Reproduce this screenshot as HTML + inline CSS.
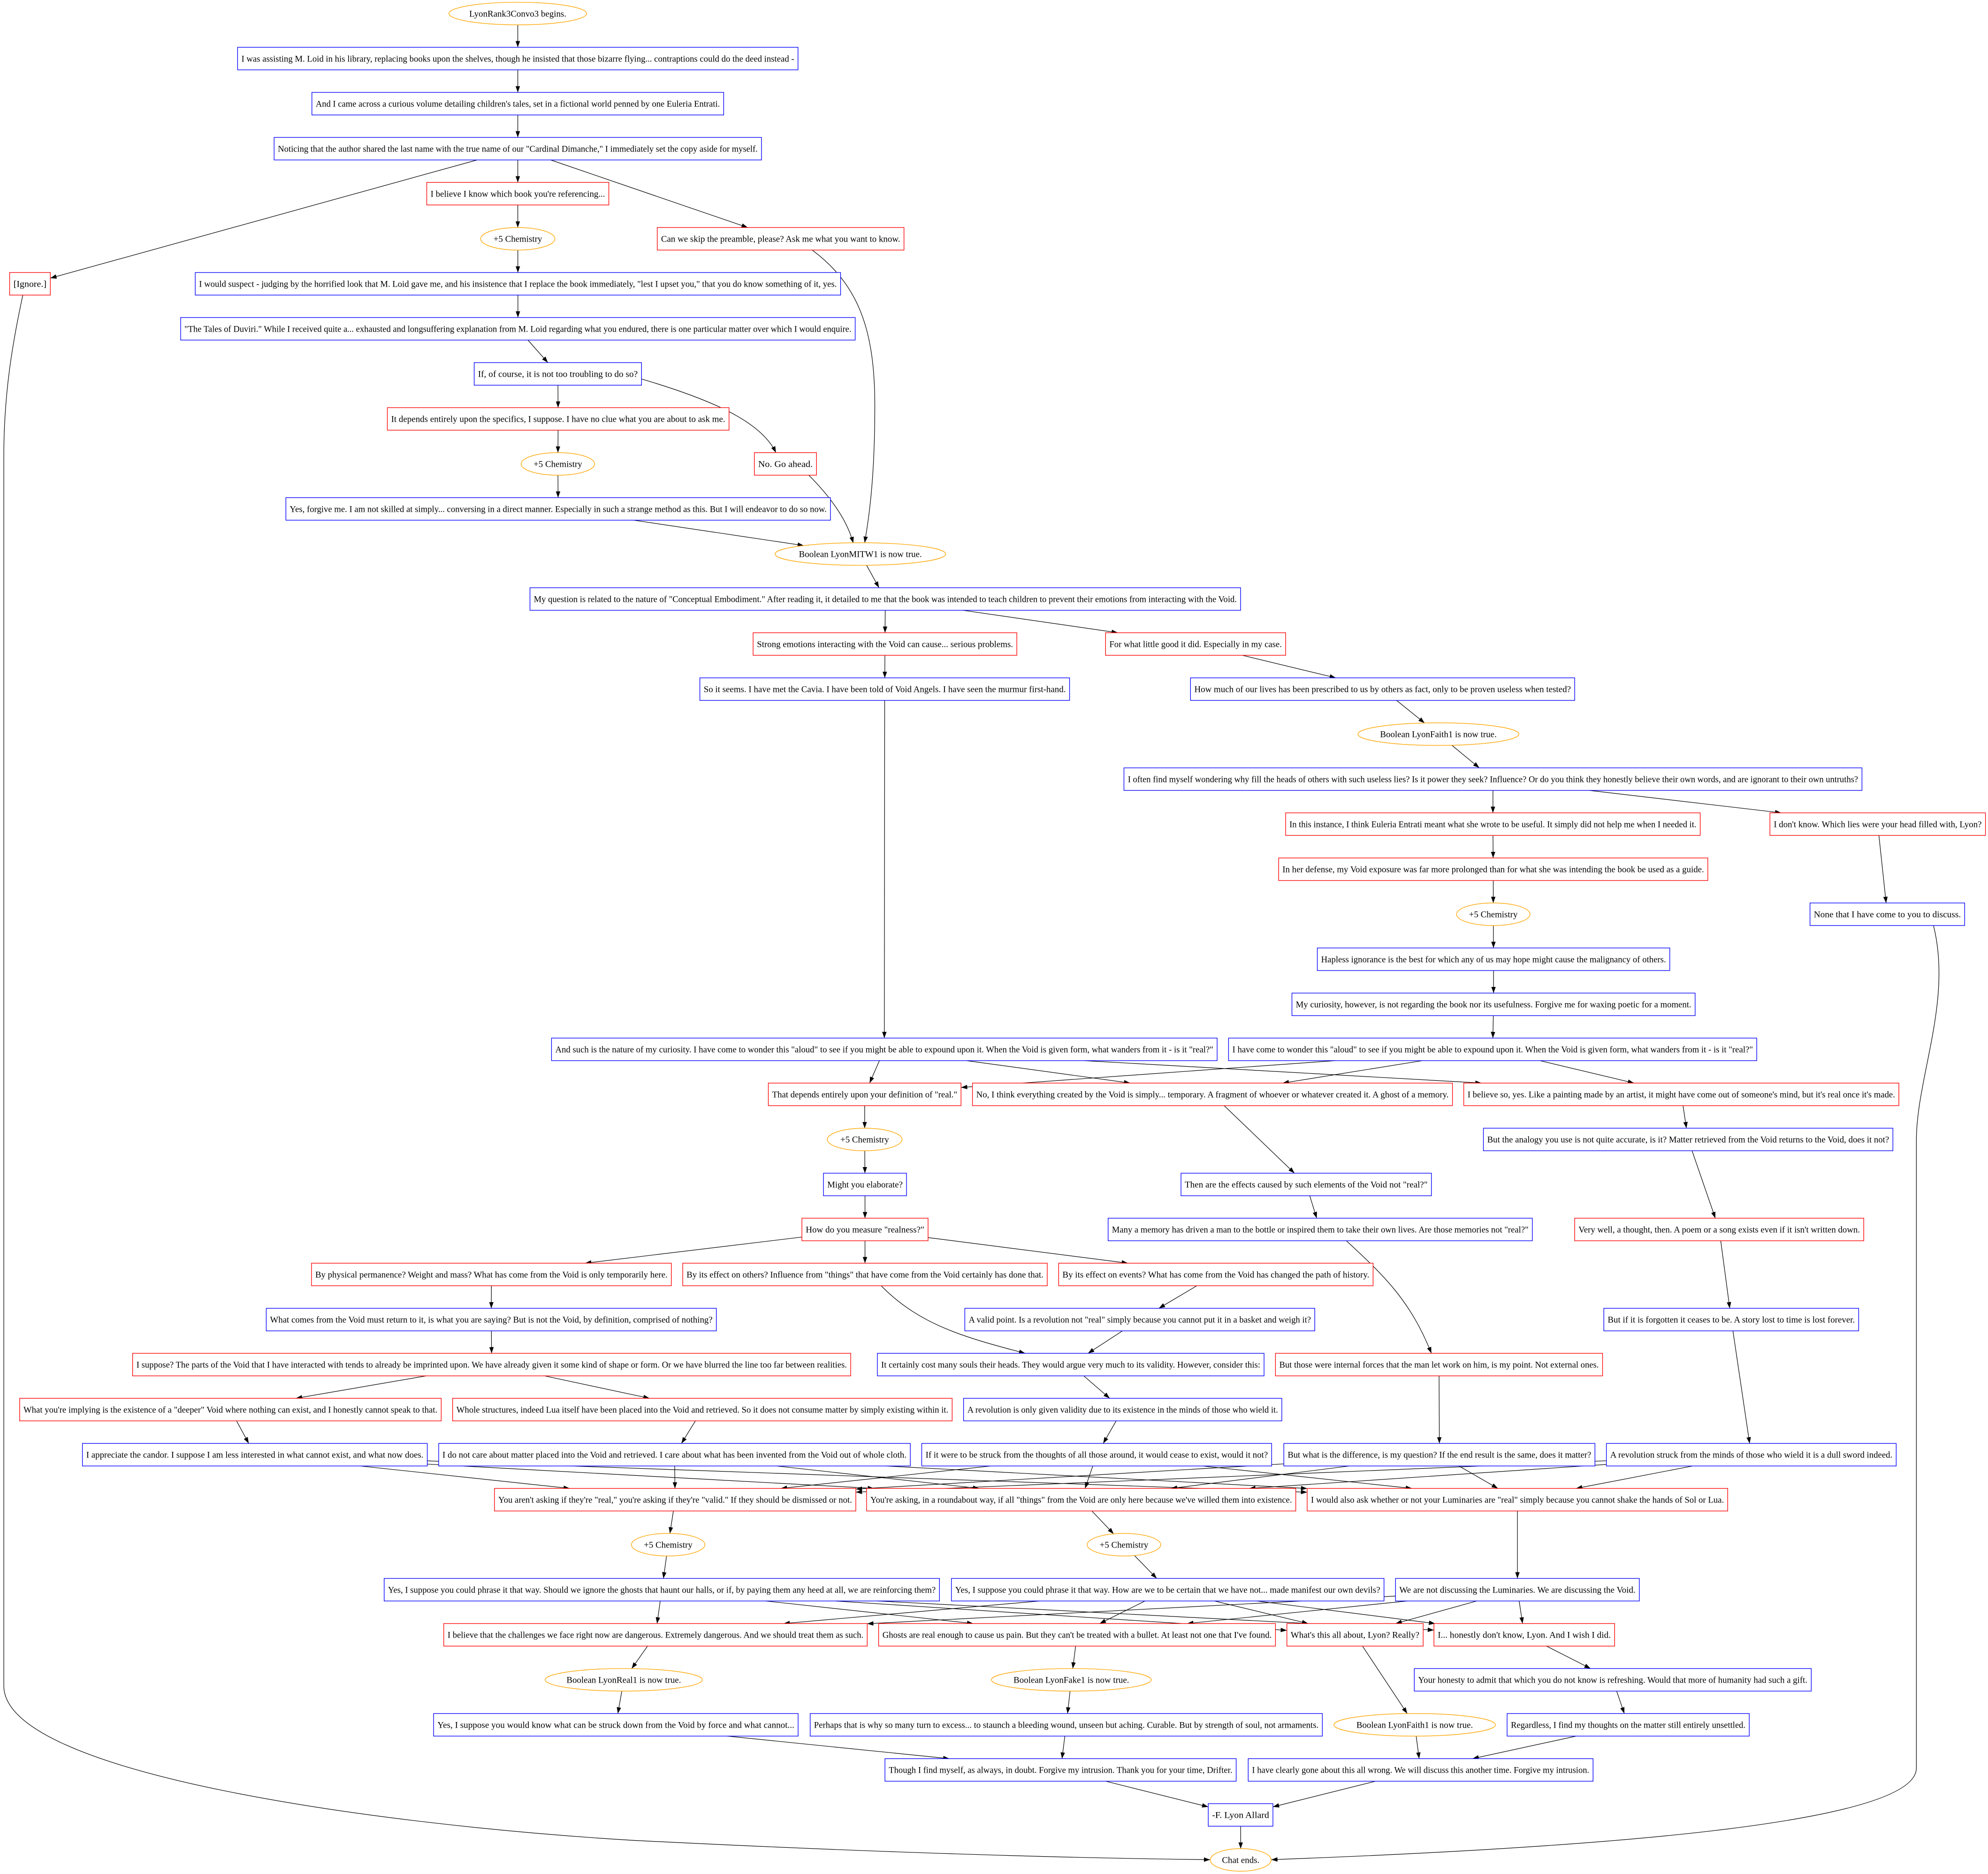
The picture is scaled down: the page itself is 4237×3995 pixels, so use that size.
<!DOCTYPE html>
<html><head><meta charset="utf-8"><style>
html,body{margin:0;padding:0;background:#fff;}
svg{display:block;}
.b{fill:#fff;stroke:#0000ff;stroke-width:0.5;}
.r{fill:#fff;stroke:#ff0000;stroke-width:0.5;}
.o{fill:#fff;stroke:#ffa500;stroke-width:0.5;}
text{font-family:"Liberation Serif","Times New Roman",serif;font-size:7px;text-anchor:middle;fill:#000;}
.ed{fill:none;stroke:#000;stroke-width:0.45;}
</style></head><body>
<svg id="s" width="4237" height="3995" viewBox="0 0 1568 1478.5" preserveAspectRatio="none" xmlns="http://www.w3.org/2000/svg">
<defs><marker id="ar" markerUnits="userSpaceOnUse" markerWidth="6" markerHeight="4" refX="4.9" refY="1.75" orient="auto"><path d="M0,0 L4.9,1.75 L0,3.5 z" fill="#000"/></marker></defs>
<rect x="0" y="0" width="1568" height="1478.5" fill="#fff"/>
<g id="edges"></g>
<path class="ed" marker-end="url(#ar)" d="M640.6,197.3 C678,225 690,262 690,320 C690,380 685,410 682,428.2"/>
<path class="ed" marker-end="url(#ar)" d="M18,232.8 C10,270 3,310 3,360 L3,1330 C3,1400 300,1440 500,1452 C700,1462 850,1466 954.5,1467.2"/>
<path class="ed" marker-end="url(#ar)" d="M1525,730.2 C1540,790 1511.5,850 1511.5,900 L1511.5,1395 C1511.5,1440 1250,1458 1002.7,1467.2"/>
<path class="ed" marker-end="url(#ar)" d="M506,299 C560,315 600,332 612,357.1"/>
<path class="ed" marker-end="url(#ar)" d="M638,375 C655,392 668,410 673,428.5"/>
<path class="ed" marker-end="url(#ar)" d="M695,1014.4 C725,1045 760,1055 808.6,1067.7"/>
<path class="ed" marker-end="url(#ar)" d="M1062,979 C1090,1005 1112,1025 1129,1067.7"/>
<g id="nodes">
<ellipse id="n0" class="o" cx="408.4" cy="10.7" rx="54.3" ry="8.9"/><text x="408.4" y="13.1">LyonRank3Convo3 begins.</text>
<rect id="n1" class="b" x="187.4" y="37.3" width="442" height="17.8"/><text x="408.4" y="48.6" textLength="436" lengthAdjust="spacingAndGlyphs">I was assisting M. Loid in his library, replacing books upon the shelves, though he insisted that those bizarre flying... contraptions could do the deed instead -</text>
<rect id="n2" class="b" x="246" y="72.9" width="324.8" height="17.8"/><text x="408.4" y="84.2" textLength="318.8" lengthAdjust="spacingAndGlyphs">And I came across a curious volume detailing children's tales, set in a fictional world penned by one Euleria Entrati.</text>
<rect id="n3" class="b" x="216.2" y="108.4" width="384.4" height="17.8"/><text x="408.4" y="119.7" textLength="378.4" lengthAdjust="spacingAndGlyphs">Noticing that the author shared the last name with the true name of our "Cardinal Dimanche," I immediately set the copy aside for myself.</text>
<rect id="n4" class="r" x="336.6" y="143.9" width="143.6" height="17.8"/><text x="408.4" y="155.2" textLength="137.6" lengthAdjust="spacingAndGlyphs">I believe I know which book you're referencing...</text>
<ellipse id="n5" class="o" cx="408.4" cy="188.4" rx="29.3" ry="8.9"/><text x="408.4" y="190.8">+5 Chemistry</text>
<rect id="n6" class="r" x="518.4" y="179.5" width="194.6" height="17.8"/><text x="615.7" y="190.8" textLength="188.6" lengthAdjust="spacingAndGlyphs">Can we skip the preamble, please? Ask me what you want to know.</text>
<rect id="n7" class="r" x="7.6" y="215" width="32.1" height="17.8"/><text x="23.65" y="226.3" textLength="26" lengthAdjust="spacingAndGlyphs">[Ignore.]</text>
<rect id="n8" class="b" x="154" y="215" width="509" height="17.8"/><text x="408.5" y="226.3" textLength="503" lengthAdjust="spacingAndGlyphs">I would suspect - judging by the horrified look that M. Loid gave me, and his insistence that I replace the book immediately, "lest I upset you," that you do know something of it, yes.</text>
<rect id="n9" class="b" x="142.5" y="250.5" width="532" height="17.8"/><text x="408.5" y="261.8" textLength="526" lengthAdjust="spacingAndGlyphs">"The Tales of Duviri." While I received quite a... exhausted and longsuffering explanation from M. Loid regarding what you endured, there is one particular matter over which I would enquire.</text>
<rect id="n10" class="b" x="374" y="286.1" width="132" height="17.8"/><text x="440" y="297.4" textLength="126" lengthAdjust="spacingAndGlyphs">If, of course, it is not too troubling to do so?</text>
<rect id="n11" class="r" x="305.5" y="321.6" width="269.5" height="17.8"/><text x="440.25" y="332.9" textLength="263.5" lengthAdjust="spacingAndGlyphs">It depends entirely upon the specifics, I suppose. I have no clue what you are about to ask me.</text>
<rect id="n12" class="r" x="595" y="357.1" width="49" height="17.8"/><text x="619.5" y="368.4" textLength="43" lengthAdjust="spacingAndGlyphs">No. Go ahead.</text>
<ellipse id="n13" class="o" cx="440" cy="366" rx="29" ry="8.9"/><text x="440" y="368.4">+5 Chemistry</text>
<rect id="n14" class="b" x="225.5" y="392.6" width="429.5" height="17.8"/><text x="440.25" y="403.9" textLength="423.5" lengthAdjust="spacingAndGlyphs">Yes, forgive me. I am not skilled at simply... conversing in a direct manner. Especially in such a strange method as this. But I will endeavor to do so now.</text>
<ellipse id="n15" class="o" cx="678.6" cy="437.1" rx="67.3" ry="8.9"/><text x="678.6" y="439.5">Boolean LyonMITW1 is now true.</text>
<rect id="n16" class="b" x="418" y="463.7" width="560.5" height="17.8"/><text x="698.25" y="475" textLength="554.5" lengthAdjust="spacingAndGlyphs">My question is related to the nature of "Conceptual Embodiment." After reading it, it detailed to me that the book was intended to teach children to prevent their emotions from interacting with the Void.</text>
<rect id="n17" class="r" x="594" y="499.2" width="208" height="17.8"/><text x="698" y="510.5" textLength="202" lengthAdjust="spacingAndGlyphs">Strong emotions interacting with the Void can cause... serious problems.</text>
<rect id="n18" class="r" x="872" y="499.2" width="142" height="17.8"/><text x="943" y="510.5" textLength="136" lengthAdjust="spacingAndGlyphs">For what little good it did. Especially in my case.</text>
<rect id="n19" class="b" x="552" y="534.8" width="291.6" height="17.8"/><text x="697.8" y="546.1" textLength="285.6" lengthAdjust="spacingAndGlyphs">So it seems. I have met the Cavia. I have been told of Void Angels. I have seen the murmur first-hand.</text>
<rect id="n20" class="b" x="939" y="534.8" width="303" height="17.8"/><text x="1090.5" y="546.1" textLength="297" lengthAdjust="spacingAndGlyphs">How much of our lives has been prescribed to us by others as fact, only to be proven useless when tested?</text>
<ellipse id="n21" class="o" cx="1134.5" cy="579.2" rx="63.5" ry="8.9"/><text x="1134.5" y="581.6">Boolean LyonFaith1 is now true.</text>
<rect id="n22" class="b" x="886.5" y="605.8" width="582.1" height="17.8"/><text x="1177.55" y="617.1" textLength="576" lengthAdjust="spacingAndGlyphs">I often find myself wondering why fill the heads of others with such useless lies? Is it power they seek? Influence? Or do you think they honestly believe their own words, and are ignorant to their own untruths?</text>
<rect id="n23" class="r" x="1014" y="641.3" width="327" height="17.8"/><text x="1177.5" y="652.6" textLength="321" lengthAdjust="spacingAndGlyphs">In this instance, I think Euleria Entrati meant what she wrote to be useful. It simply did not help me when I needed it.</text>
<rect id="n24" class="r" x="1396" y="641.3" width="170" height="17.8"/><text x="1481" y="652.6" textLength="164" lengthAdjust="spacingAndGlyphs">I don't know. Which lies were your head filled with, Lyon?</text>
<rect id="n25" class="r" x="1008.5" y="676.9" width="338.5" height="17.8"/><text x="1177.75" y="688.2" textLength="332.5" lengthAdjust="spacingAndGlyphs">In her defense, my Void exposure was far more prolonged than for what she was intending the book be used as a guide.</text>
<ellipse id="n26" class="o" cx="1177.8" cy="721.3" rx="29" ry="8.9"/><text x="1177.8" y="723.7">+5 Chemistry</text>
<rect id="n27" class="b" x="1427.6" y="712.4" width="122" height="17.8"/><text x="1488.6" y="723.7" textLength="116" lengthAdjust="spacingAndGlyphs">None that I have come to you to discuss.</text>
<rect id="n28" class="b" x="1039" y="747.9" width="278" height="17.8"/><text x="1178" y="759.2" textLength="272" lengthAdjust="spacingAndGlyphs">Hapless ignorance is the best for which any of us may hope might cause the malignancy of others.</text>
<rect id="n29" class="b" x="1019" y="783.5" width="318" height="17.8"/><text x="1178" y="794.8" textLength="312" lengthAdjust="spacingAndGlyphs">My curiosity, however, is not regarding the book nor its usefulness. Forgive me for waxing poetic for a moment.</text>
<rect id="n30" class="b" x="435" y="819" width="525" height="17.8"/><text x="697.5" y="830.3" textLength="519" lengthAdjust="spacingAndGlyphs">And such is the nature of my curiosity. I have come to wonder this "aloud" to see if you might be able to expound upon it. When the Void is given form, what wanders from it - is it "real?"</text>
<rect id="n31" class="b" x="969" y="819" width="416.6" height="17.8"/><text x="1177.3" y="830.3" textLength="410.6" lengthAdjust="spacingAndGlyphs">I have come to wonder this "aloud" to see if you might be able to expound upon it. When the Void is given form, what wanders from it - is it "real?"</text>
<rect id="n32" class="r" x="606" y="854.5" width="152" height="17.8"/><text x="682" y="865.8" textLength="146" lengthAdjust="spacingAndGlyphs">That depends entirely upon your definition of "real."</text>
<rect id="n33" class="r" x="767" y="854.5" width="378.6" height="17.8"/><text x="956.3" y="865.8" textLength="372.6" lengthAdjust="spacingAndGlyphs">No, I think everything created by the Void is simply... temporary. A fragment of whoever or whatever created it. A ghost of a memory.</text>
<rect id="n34" class="r" x="1154.5" y="854.5" width="343.2" height="17.8"/><text x="1326.1" y="865.8" textLength="337.2" lengthAdjust="spacingAndGlyphs">I believe so, yes. Like a painting made by an artist, it might have come out of someone's mind, but it's real once it's made.</text>
<ellipse id="n35" class="o" cx="682" cy="899" rx="29.5" ry="8.9"/><text x="682" y="901.4">+5 Chemistry</text>
<rect id="n36" class="b" x="1170" y="890.1" width="323" height="17.8"/><text x="1331.5" y="901.4" textLength="317" lengthAdjust="spacingAndGlyphs">But the analogy you use is not quite accurate, is it? Matter retrieved from the Void returns to the Void, does it not?</text>
<rect id="n37" class="b" x="649.5" y="925.6" width="65.5" height="17.8"/><text x="682.25" y="936.9" textLength="59.5" lengthAdjust="spacingAndGlyphs">Might you elaborate?</text>
<rect id="n38" class="b" x="931.5" y="925.6" width="197.5" height="17.8"/><text x="1030.25" y="936.9" textLength="191.5" lengthAdjust="spacingAndGlyphs">Then are the effects caused by such elements of the Void not "real?"</text>
<rect id="n39" class="r" x="632.5" y="961.1" width="99.5" height="17.8"/><text x="682.25" y="972.4" textLength="93.5" lengthAdjust="spacingAndGlyphs">How do you measure "realness?"</text>
<rect id="n40" class="b" x="874" y="961.1" width="334.6" height="17.8"/><text x="1041.3" y="972.4" textLength="328.6" lengthAdjust="spacingAndGlyphs">Many a memory has driven a man to the bottle or inspired them to take their own lives. Are those memories not "real?"</text>
<rect id="n41" class="r" x="1242" y="961.1" width="228" height="17.8"/><text x="1356" y="972.4" textLength="222" lengthAdjust="spacingAndGlyphs">Very well, a thought, then. A poem or a song exists even if it isn't written down.</text>
<rect id="n42" class="r" x="245.7" y="996.6" width="283.8" height="17.8"/><text x="387.6" y="1007.9" textLength="277.8" lengthAdjust="spacingAndGlyphs">By physical permanence? Weight and mass? What has come from the Void is only temporarily here.</text>
<rect id="n43" class="r" x="538.5" y="996.6" width="287.5" height="17.8"/><text x="682.25" y="1007.9" textLength="281.5" lengthAdjust="spacingAndGlyphs">By its effect on others? Influence from "things" that have come from the Void certainly has done that.</text>
<rect id="n44" class="r" x="835" y="996.6" width="248" height="17.8"/><text x="959" y="1007.9" textLength="242" lengthAdjust="spacingAndGlyphs">By its effect on events? What has come from the Void has changed the path of history.</text>
<rect id="n45" class="b" x="210" y="1032.2" width="355" height="17.8"/><text x="387.5" y="1043.5" textLength="349" lengthAdjust="spacingAndGlyphs">What comes from the Void must return to it, is what you are saying? But is not the Void, by definition, comprised of nothing?</text>
<rect id="n46" class="b" x="761" y="1032.2" width="276" height="17.8"/><text x="899" y="1043.5" textLength="270" lengthAdjust="spacingAndGlyphs">A valid point. Is a revolution not "real" simply because you cannot put it in a basket and weigh it?</text>
<rect id="n47" class="b" x="1265" y="1032.2" width="201" height="17.8"/><text x="1365.5" y="1043.5" textLength="195" lengthAdjust="spacingAndGlyphs">But if it is forgotten it ceases to be. A story lost to time is lost forever.</text>
<rect id="n48" class="r" x="104.6" y="1067.7" width="566.4" height="17.8"/><text x="387.8" y="1079" textLength="560.4" lengthAdjust="spacingAndGlyphs">I suppose? The parts of the Void that I have interacted with tends to already be imprinted upon. We have already given it some kind of shape or form. Or we have blurred the line too far between realities.</text>
<rect id="n49" class="b" x="692" y="1067.7" width="305" height="17.8"/><text x="844.5" y="1079" textLength="299" lengthAdjust="spacingAndGlyphs">It certainly cost many souls their heads. They would argue very much to its validity. However, consider this:</text>
<rect id="n50" class="r" x="1006" y="1067.7" width="258" height="17.8"/><text x="1135" y="1079" textLength="252" lengthAdjust="spacingAndGlyphs">But those were internal forces that the man let work on him, is my point. Not external ones.</text>
<rect id="n51" class="r" x="15.5" y="1103.2" width="332.5" height="17.8"/><text x="181.75" y="1114.5" textLength="326.5" lengthAdjust="spacingAndGlyphs">What you're implying is the existence of a "deeper" Void where nothing can exist, and I honestly cannot speak to that.</text>
<rect id="n52" class="r" x="357" y="1103.2" width="394" height="17.8"/><text x="554" y="1114.5" textLength="388" lengthAdjust="spacingAndGlyphs">Whole structures, indeed Lua itself have been placed into the Void and retrieved. So it does not consume matter by simply existing within it.</text>
<rect id="n53" class="b" x="760" y="1103.2" width="251" height="17.8"/><text x="885.5" y="1114.5" textLength="245" lengthAdjust="spacingAndGlyphs">A revolution is only given validity due to its existence in the minds of those who wield it.</text>
<rect id="n54" class="b" x="65" y="1138.8" width="272" height="17.8"/><text x="201" y="1150.1" textLength="266" lengthAdjust="spacingAndGlyphs">I appreciate the candor. I suppose I am less interested in what cannot exist, and what now does.</text>
<rect id="n55" class="b" x="346" y="1138.8" width="372" height="17.8"/><text x="532" y="1150.1" textLength="366" lengthAdjust="spacingAndGlyphs">I do not care about matter placed into the Void and retrieved. I care about what has been invented from the Void out of whole cloth.</text>
<rect id="n56" class="b" x="727" y="1138.8" width="276" height="17.8"/><text x="865" y="1150.1" textLength="270" lengthAdjust="spacingAndGlyphs">If it were to be struck from the thoughts of all those around, it would cease to exist, would it not?</text>
<rect id="n57" class="b" x="1012.6" y="1138.8" width="245.4" height="17.8"/><text x="1135.3" y="1150.1" textLength="239.4" lengthAdjust="spacingAndGlyphs">But what is the difference, is my question? If the end result is the same, does it matter?</text>
<rect id="n58" class="b" x="1267" y="1138.8" width="228.6" height="17.8"/><text x="1381.3" y="1150.1" textLength="222.6" lengthAdjust="spacingAndGlyphs">A revolution struck from the minds of those who wield it is a dull sword indeed.</text>
<rect id="n59" class="r" x="390" y="1174.3" width="285" height="17.8"/><text x="532.5" y="1185.6" textLength="279" lengthAdjust="spacingAndGlyphs">You aren't asking if they're "real," you're asking if they're "valid." If they should be dismissed or not.</text>
<rect id="n60" class="r" x="683.5" y="1174.3" width="338.5" height="17.8"/><text x="852.75" y="1185.6" textLength="332.5" lengthAdjust="spacingAndGlyphs">You're asking, in a roundabout way, if all "things" from the Void are only here because we've willed them into existence.</text>
<rect id="n61" class="r" x="1031" y="1174.3" width="331.7" height="17.8"/><text x="1196.85" y="1185.6" textLength="325.7" lengthAdjust="spacingAndGlyphs">I would also ask whether or not your Luminaries are "real" simply because you cannot shake the hands of Sol or Lua.</text>
<ellipse id="n62" class="o" cx="527" cy="1218.7" rx="29" ry="8.9"/><text x="527" y="1221.1">+5 Chemistry</text>
<ellipse id="n63" class="o" cx="886.5" cy="1218.7" rx="29" ry="8.9"/><text x="886.5" y="1221.1">+5 Chemistry</text>
<rect id="n64" class="b" x="303" y="1245.3" width="438" height="17.8"/><text x="522" y="1256.6" textLength="432" lengthAdjust="spacingAndGlyphs">Yes, I suppose you could phrase it that way. Should we ignore the ghosts that haunt our halls, or if, by paying them any heed at all, we are reinforcing them?</text>
<rect id="n65" class="b" x="750.4" y="1245.3" width="341.2" height="17.8"/><text x="921" y="1256.6" textLength="335.2" lengthAdjust="spacingAndGlyphs">Yes, I suppose you could phrase it that way. How are we to be certain that we have not... made manifest our own devils?</text>
<rect id="n66" class="b" x="1100.7" y="1245.3" width="192.3" height="17.8"/><text x="1196.85" y="1256.6" textLength="186.3" lengthAdjust="spacingAndGlyphs">We are not discussing the Luminaries. We are discussing the Void.</text>
<rect id="n67" class="r" x="350" y="1280.9" width="334" height="17.8"/><text x="517" y="1292.2" textLength="328" lengthAdjust="spacingAndGlyphs">I believe that the challenges we face right now are dangerous. Extremely dangerous. And we should treat them as such.</text>
<rect id="n68" class="r" x="693" y="1280.9" width="313" height="17.8"/><text x="849.5" y="1292.2" textLength="307" lengthAdjust="spacingAndGlyphs">Ghosts are real enough to cause us pain. But they can't be treated with a bullet. At least not one that I've found.</text>
<rect id="n69" class="r" x="1015" y="1280.9" width="107.5" height="17.8"/><text x="1068.75" y="1292.2" textLength="101.5" lengthAdjust="spacingAndGlyphs">What's this all about, Lyon? Really?</text>
<rect id="n70" class="r" x="1131" y="1280.9" width="142.5" height="17.8"/><text x="1202.25" y="1292.2" textLength="136.5" lengthAdjust="spacingAndGlyphs">I... honestly don't know, Lyon. And I wish I did.</text>
<ellipse id="n77" class="o" cx="492" cy="1325.3" rx="62" ry="8.9"/><text x="492" y="1327.7">Boolean LyonReal1 is now true.</text>
<ellipse id="n78" class="o" cx="845" cy="1325.3" rx="63" ry="8.9"/><text x="845" y="1327.7">Boolean LyonFake1 is now true.</text>
<rect id="n71" class="b" x="1115.5" y="1316.4" width="313.1" height="17.8"/><text x="1272.05" y="1327.7" textLength="307" lengthAdjust="spacingAndGlyphs">Your honesty to admit that which you do not know is refreshing. Would that more of humanity had such a gift.</text>
<rect id="n79" class="b" x="342" y="1351.9" width="287.5" height="17.8"/><text x="485.75" y="1363.2" textLength="281.5" lengthAdjust="spacingAndGlyphs">Yes, I suppose you would know what can be struck down from the Void by force and what cannot...</text>
<rect id="n80" class="b" x="639" y="1351.9" width="404" height="17.8"/><text x="841" y="1363.2" textLength="398" lengthAdjust="spacingAndGlyphs">Perhaps that is why so many turn to excess... to staunch a bleeding wound, unseen but aching. Curable. But by strength of soul, not armaments.</text>
<ellipse id="n72" class="o" cx="1115.8" cy="1360.8" rx="63.7" ry="8.9"/><text x="1115.8" y="1363.2">Boolean LyonFaith1 is now true.</text>
<rect id="n73" class="b" x="1188.7" y="1351.9" width="191" height="17.8"/><text x="1284.2" y="1363.2" textLength="185" lengthAdjust="spacingAndGlyphs">Regardless, I find my thoughts on the matter still entirely unsettled.</text>
<rect id="n81" class="b" x="698" y="1387.5" width="277" height="17.8"/><text x="836.5" y="1398.8" textLength="271" lengthAdjust="spacingAndGlyphs">Though I find myself, as always, in doubt. Forgive my intrusion. Thank you for your time, Drifter.</text>
<rect id="n74" class="b" x="984.5" y="1387.5" width="272" height="17.8"/><text x="1120.5" y="1398.8" textLength="266" lengthAdjust="spacingAndGlyphs">I have clearly gone about this all wrong. We will discuss this another time. Forgive my intrusion.</text>
<rect id="n75" class="b" x="953" y="1423" width="51" height="17.8"/><text x="978.5" y="1434.3" textLength="45" lengthAdjust="spacingAndGlyphs">-F. Lyon Allard</text>
<ellipse id="n76" class="o" cx="978.6" cy="1467.4" rx="24" ry="8.9"/><text x="978.6" y="1469.8">Chat ends.</text>
</g>
</svg>
<script>
(function(){
var E=[[0,1],[1,2],[2,3],[3,4],[3,6],[3,7],[4,5],[5,8],[8,9],[9,10],[10,11],[11,13],[13,14],[14,15],[15,16],[16,17],[16,18],[17,19],[18,20],[20,21],[21,22],[22,23],[22,24],[23,25],[25,26],[26,28],[24,27],[28,29],[29,31],[19,30],[30,32],[30,33],[30,34],[31,32],[31,33],[31,34],[32,35],[35,37],[37,39],[39,42],[39,43],[39,44],[33,38],[38,40],[34,36],[36,41],[41,47],[47,58],[42,45],[45,48],[48,51],[48,52],[51,54],[52,55],[44,46],[46,49],[49,53],[53,56],[50,57],[59,62],[62,64],[60,63],[63,65],[61,66],[67,77],[77,79],[68,78],[78,80],[69,72],[70,71],[71,73],[79,81],[80,81],[72,74],[73,74],[81,75],[74,75],[75,76]];
var i,j;
for(i=54;i<=58;i++)for(j=59;j<=61;j++)E.push([i,j]);
for(i=64;i<=66;i++)for(j=67;j<=70;j++)E.push([i,j]);
function G(id){var el=document.getElementById('n'+id);
 if(el.tagName.toLowerCase()=='rect'){var x=+el.getAttribute('x'),y=+el.getAttribute('y'),w=+el.getAttribute('width'),h=+el.getAttribute('height');return{t:'r',cx:x+w/2,cy:y+h/2,hw:w/2,hh:h/2};}
 return{t:'e',cx:+el.getAttribute('cx'),cy:+el.getAttribute('cy'),rx:+el.getAttribute('rx'),ry:+el.getAttribute('ry')};}
function clip(g,dx,dy){var t;
 if(g.t=='r'){var a=Math.abs(dx)>1e-9?g.hw/Math.abs(dx):1e9,b=Math.abs(dy)>1e-9?g.hh/Math.abs(dy):1e9;t=Math.min(a,b);}
 else{t=1/Math.sqrt((dx/g.rx)*(dx/g.rx)+(dy/g.ry)*(dy/g.ry));}
 return[g.cx+dx*t,g.cy+dy*t];}
var gE=document.getElementById('edges'),ns='http://www.w3.org/2000/svg';
E.forEach(function(e){var a=G(e[0]),b=G(e[1]);var dx=b.cx-a.cx,dy=b.cy-a.cy;
 var p=clip(a,dx,dy),q=clip(b,-dx,-dy);
 var l=document.createElementNS(ns,'path');l.setAttribute('class','ed');
 l.setAttribute('d','M'+p[0].toFixed(2)+','+p[1].toFixed(2)+' L'+q[0].toFixed(2)+','+q[1].toFixed(2));
 l.setAttribute('marker-end','url(#ar)');gE.appendChild(l);});
})();
</script>
</body></html>
